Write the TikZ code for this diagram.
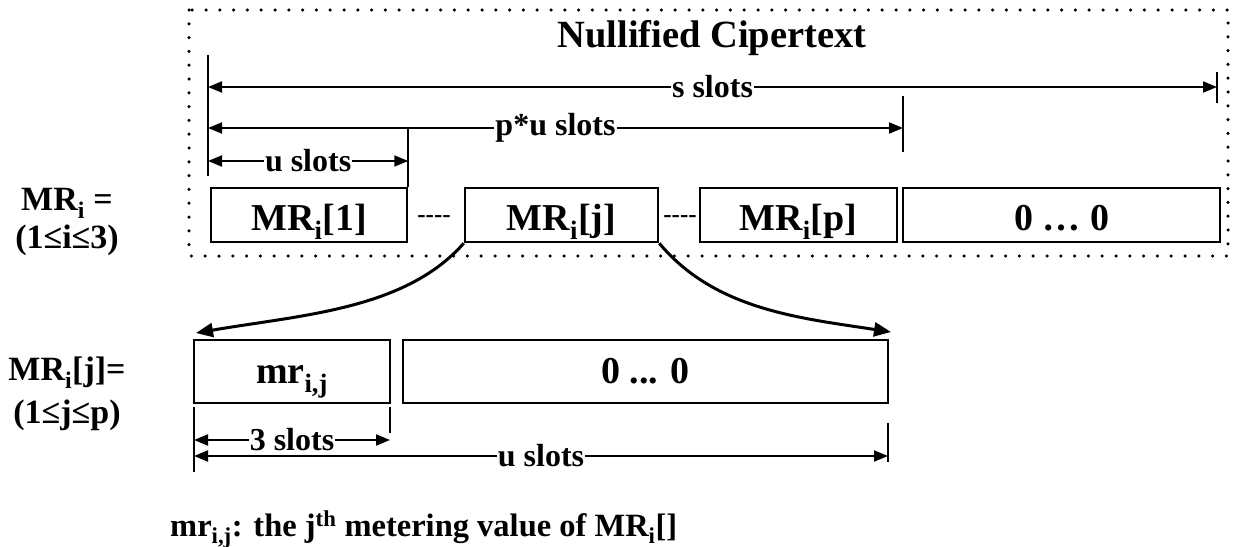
\documentclass[tikz,border=0pt]{standalone}
\usepackage{fontspec}
\setmainfont{Liberation Serif}
\usetikzlibrary{arrows.meta}

\begin{document}
\begin{tikzpicture}[x=1pt,y=-1pt,
  slotbox/.style={draw, line width=2.5pt, inner sep=0pt, minimum height=54pt,
    text height=30pt, text depth=0pt,
    font=\fontsize{38}{42}\selectfont\bfseries},
  lowbox/.style={slotbox, minimum height=63pt, text height=30pt, text depth=7pt},
  dimline/.style={line width=2pt,
    {Triangle[length=14pt,width=11pt]}-{Triangle[length=14pt,width=11pt]}},
  ticker/.style={line width=2pt},
  dimlabel/.style={fill=white, inner sep=1pt, font=\fontsize{32}{36}\selectfont\bfseries},
  sidelabel/.style={inner sep=0pt, font=\fontsize{34}{38}\selectfont\bfseries},
  gapdash/.style={inner sep=0pt, font=\fontsize{25}{28}\selectfont\bfseries},
  expand/.style={line width=3pt, -{Triangle[length=17pt,width=14pt]}},
  frame/.style={line width=3.5pt, line cap=round, dash pattern=on 0pt off 13.8pt}
]
\useasboundingbox (0,0) rectangle (1233,546);

% dotted outline of the nullified ciphertext
\draw[frame] (189,10) rectangle (1228,256);
\node[font=\fontsize{38.5}{42}\selectfont\bfseries] (title) at (712,38) {Nullified Cipertext};

% top row of slots
\node[slotbox, minimum width=196pt] (b1) at (309,215) {MR\textsubscript{i}[1]};
\node[slotbox, minimum width=193pt] (bj) at (561.5,215) {MR\textsubscript{i}[j]};
\node[slotbox, minimum width=197pt] (bp) at (798.5,215) {MR\textsubscript{i}[p]};
\node[slotbox, minimum width=317pt] (bz) at (1061.5,215) {0 … 0};
\node[gapdash] (d1) at (434,219) {\hbox{-}\hbox{-}\hbox{-}\hbox{-}};
\node[gapdash] (d2) at (680,219) {\hbox{-}\hbox{-}\hbox{-}\hbox{-}};

% side labels
\node[sidelabel] (l1) at (67,203) {MR\textsubscript{i} =};
\node[sidelabel] (l2) at (67,240) {(1≤i≤3)};
\node[sidelabel] (l3) at (67,373) {MR\textsubscript{i}[j]=};
\node[sidelabel] (l4) at (67,415) {(1≤j≤p)};

% upper dimension ticks
\coordinate (t0a) at (208,55);
\coordinate (t0b) at (208,176);
\coordinate (tsa) at (1217,72);
\coordinate (tsb) at (1217,103);
\coordinate (tpa) at (903,96);
\coordinate (tpb) at (903,152);
\draw[ticker] (t0a) -- (t0b);
\draw[ticker] (tsa) -- (tsb);
\draw[ticker] (tpa) -- (tpb);
\draw[ticker] (b1.north east) -- ++(0,-60);

% upper dimension arrows
\coordinate (sL) at (208,87);
\coordinate (sR) at (1217,87);
\coordinate (pL) at (208,128);
\coordinate (pR) at (903,128);
\coordinate (uL) at (208,161);
\coordinate (uR) at (b1.north east |- uL);
\draw[dimline] (sL) -- node[dimlabel] {s slots} (sR);
\draw[dimline] (pL) -- node[dimlabel] {p*u slots} (pR);
\draw[dimline] (uL) -- node[dimlabel] {u slots} (uR);

% expanded slot MR_i[j]
\node[lowbox, minimum width=196pt] (mr) at (292,371.5) {mr\textsubscript{i,j}};
\node[lowbox, minimum width=485pt] (lz) at (645.5,371.5) {0 ... 0};

\coordinate (cl) at (196,333);
\coordinate (cr) at (891,332);
\draw[expand] (bj.south west) .. controls (405,310) and (300,315) .. (cl);
\draw[expand] (bj.south east) .. controls (715,310) and (800,318) .. (cr);

% lower dimension ticks
\coordinate (k0a) at (194,407);
\coordinate (k0b) at (194,472);
\coordinate (k3a) at (390,407);
\coordinate (k3b) at (390,433);
\coordinate (kua) at (888,423);
\coordinate (kub) at (888,462);
\draw[ticker] (k0a) -- (k0b);
\draw[ticker] (k3a) -- (k3b);
\draw[ticker] (kua) -- (kub);

% lower dimension arrows
\coordinate (aL) at (194,440);
\coordinate (aR) at (390,440);
\coordinate (bL) at (194,456);
\coordinate (bR) at (888,456);
\draw[dimline] (aL) -- node[dimlabel] {3 slots} (aR);
\draw[dimline] (bL) -- node[dimlabel] {u slots} (bR);

% legend
\node[anchor=base west, inner sep=0pt, font=\fontsize{32.5}{36}\selectfont\bfseries] (note) at (170,536)
  {mr\textsubscript{i,j}: the j\textsuperscript{th} metering value of MR\textsubscript{i}[]};
\end{tikzpicture}
\end{document}
